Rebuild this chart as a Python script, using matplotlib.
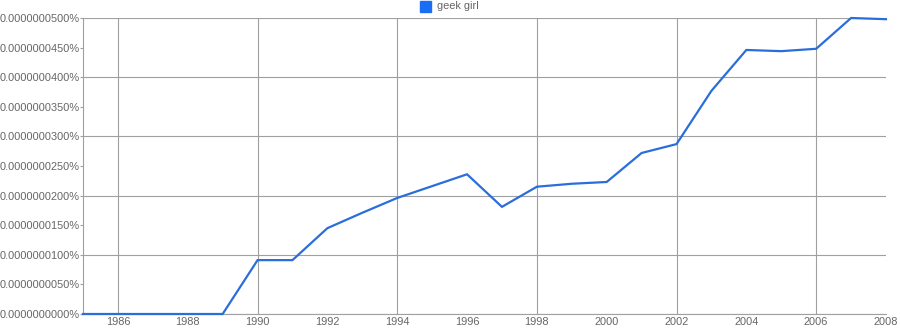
import matplotlib.pyplot as plt
from matplotlib.ticker import FuncFormatter, MultipleLocator

plt.rcParams['font.family'] = ['Liberation Sans', 'DejaVu Sans']

years = list(range(1985, 2009))
# share in units of 1e-8 percent
geek_girl = [0, 0, 0, 0, 0, 0.91, 0.91, 1.45, 1.71, 1.96, 2.16, 2.36, 1.81,
             2.15, 2.20, 2.23, 2.72, 2.87, 3.77, 4.46, 4.44, 4.48, 5.00, 4.98]
label = "geek girl"

fig = plt.figure(figsize=(9, 3.3), dpi=100)
ax = fig.add_axes([83/900, 16/330, 803/900, 296/330])

ax.plot(years, geek_girl, color='#2a6edb', linewidth=1.6, solid_joinstyle='miter',
        clip_on=False, zorder=3)

ax.set_xlim(1985, 2008)
ax.set_ylim(0, 5.0)

# grid every 4 years / every 1e-8, labels every 2 years / 0.5e-8
ax.xaxis.remove_overlapping_locs = False
ax.yaxis.remove_overlapping_locs = False
ax.set_xticks(range(1986, 2009, 2))
ax.set_xticks(range(1986, 2009, 4), minor=True)
ax.yaxis.set_major_locator(MultipleLocator(0.5))
ax.yaxis.set_minor_locator(MultipleLocator(1.0))
ax.grid(False, which='major')
ax.grid(True, which='minor', color='#a0a0a0', linewidth=0.8)

ax.yaxis.set_major_formatter(FuncFormatter(lambda v, p: "%.10f%%" % (v * 1e-8)))

ax.tick_params(axis='y', which='major', length=2, color='#a0a0a0', labelsize=7.9,
               labelcolor='#666666', pad=0.5)
ax.tick_params(axis='y', which='minor', length=0)
ax.tick_params(axis='x', which='both', length=0, labelsize=7.9, labelcolor='#666666', pad=2)

for s in ['top', 'right']:
    ax.spines[s].set_visible(False)
for s in ['left', 'bottom']:
    ax.spines[s].set_color('#a0a0a0')
    ax.spines[s].set_linewidth(0.8)

# legend at the top
fig.patches.append(plt.Rectangle((420/900, 318/330), 11/900, 11/330,
                                 transform=fig.transFigure, color='#1a6ef5', figure=fig))
fig.text(437/900, 324/330, label, fontsize=7.9, color='#666666', va='center', ha='left')

fig.savefig('out.png', dpi=100)
